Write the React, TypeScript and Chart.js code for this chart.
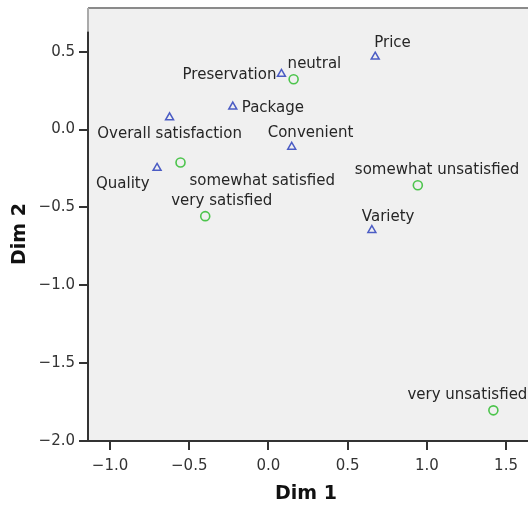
import React, { useEffect, useRef } from "react";
import { Chart, registerables } from "chart.js";

Chart.register(...registerables);

// ---- data ----
const attributeNames = ["Price", "Preservation", "Package", "Convenient", "Overall satisfaction", "Quality", "Variety"];
const attributeDim1 = [0.674, 0.082, -0.225, 0.147, -0.624, -0.703, 0.653];
const attributeDim2 = [0.468, 0.357, 0.147, -0.111, 0.078, -0.247, -0.646];

const levelNames = ["neutral", "somewhat satisfied", "very satisfied", "somewhat unsatisfied", "very unsatisfied"];
const levelDim1 = [0.159, -0.555, -0.399, 0.943, 1.42];
const levelDim2 = [0.323, -0.211, -0.556, -0.357, -1.803];

const xTickValues = [-1.0, -0.5, 0.0, 0.5, 1.0, 1.5];
const xTickLabels = ["\u22121.0", "\u22120.5", "0.0", "0.5", "1.0", "1.5"];
const yTickValues = [-2.0, -1.5, -1.0, -0.5, 0.0, 0.5];
const yTickLabels = ["\u22122.0", "\u22121.5", "\u22121.0", "\u22120.5", "0.0", "0.5"];

const xTitle = "Dim 1";
const yTitle = "Dim 2";

// label placement (pixel offsets from the marker, and text alignment)
const attributeLabelPlacement: [number, number, CanvasTextAlign][] = [
  [-1, -14, "left"],
  [-5, 1.5, "right"],
  [9, 1, "left"],
  [-24, -13.5, "left"],
  [0, 17, "center"],
  [-7.5, 16.5, "right"],
  [-10, -13.5, "left"],
];
const levelLabelPlacement: [number, number, CanvasTextAlign][] = [
  [-6, -15, "left"],
  [9, 19, "left"],
  [-34, -15, "left"],
  [-63, -15, "left"],
  [-86, -15, "left"],
];

const FONT = "'DejaVu Sans', sans-serif";

const framePlugin = {
  id: "spssFrame",
  beforeDatasetsDraw(chart: any) {
    const { ctx, chartArea, scales } = chart;
    const { left, top, right, bottom } = chartArea;
    ctx.save();
    ctx.fillStyle = "#f0f0f0";
    ctx.fillRect(left, top, right - left + 10, bottom - top);
    ctx.strokeStyle = "#8a8a8a";
    ctx.lineWidth = 2;
    ctx.beginPath();
    ctx.moveTo(left, top);
    ctx.lineTo(right + 10, top);
    ctx.stroke();
    const yAxisTop = scales.y.getPixelForValue(0.63);
    ctx.strokeStyle = "#aaaaaa";
    ctx.beginPath();
    ctx.moveTo(left, top);
    ctx.lineTo(left, yAxisTop);
    ctx.stroke();
    ctx.strokeStyle = "#333333";
    ctx.beginPath();
    ctx.moveTo(left, yAxisTop);
    ctx.lineTo(left, bottom);
    ctx.lineTo(right + 10, bottom);
    ctx.stroke();
    ctx.restore();
  },
  afterDatasetsDraw(chart: any) {
    const { ctx } = chart;
    ctx.save();
    ctx.font = `15px ${FONT}`;
    ctx.fillStyle = "#262626";
    ctx.textBaseline = "middle";
    const groups = [
      { names: attributeNames, place: attributeLabelPlacement, idx: 0 },
      { names: levelNames, place: levelLabelPlacement, idx: 1 },
    ];
    groups.forEach((g) => {
      const meta = chart.getDatasetMeta(g.idx);
      meta.data.forEach((el: any, i: number) => {
        const [dx, dy, align] = g.place[i];
        ctx.textAlign = align;
        ctx.fillText(g.names[i], el.x + dx, el.y + dy);
      });
    });
    ctx.font = `bold 19px ${FONT}`;
    ctx.fillStyle = "#111111";
    ctx.textAlign = "center";
    ctx.fillText(xTitle, 306, 494);
    ctx.translate(20, 234);
    ctx.rotate(-Math.PI / 2);
    ctx.fillText(yTitle, 0, 0);
    ctx.restore();
  },
};

export default function App() {
  const ref = useRef<HTMLCanvasElement>(null);
  useEffect(() => {
    if (!ref.current) return;
    const chart = new Chart(ref.current, {
      type: "scatter",
      data: {
        datasets: [
          {
            data: attributeDim1.map((x, i) => ({ x, y: attributeDim2[i] })),
            pointStyle: "triangle",
            pointRadius: 4.6,
            borderColor: "#4b5cc4",
            backgroundColor: "rgba(0,0,0,0)",
            borderWidth: 1.5,
          },
          {
            data: levelDim1.map((x, i) => ({ x, y: levelDim2[i] })),
            pointStyle: "circle",
            pointRadius: 4.5,
            borderColor: "#4cc44c",
            backgroundColor: "rgba(0,0,0,0)",
            borderWidth: 1.6,
          },
        ],
      },
      options: {
        animation: false,
        responsive: false,
        events: [],
        layout: { padding: { top: 8, left: 0, right: 0, bottom: 0 } },
        plugins: { legend: { display: false }, tooltip: { enabled: false } },
        scales: {
          x: {
            type: "linear",
            min: -1.139,
            max: 1.72,
            afterBuildTicks: (s: any) => {
              s.ticks = xTickValues.map((v) => ({ value: v }));
            },
            afterFit: (s: any) => {
              s.height = 66;
              s.paddingLeft = 0;
              s.paddingRight = 0;
            },
            grid: { drawOnChartArea: false, drawTicks: true, tickLength: 9, lineWidth: 2, color: "#333333" },
            border: { display: false },
            ticks: {
              padding: 7,
              color: "#333333",
              font: { family: FONT, size: 15 },
              callback: (_v: any, i: number) => xTickLabels[i],
              maxRotation: 0,
            },
          },
          y: {
            type: "linear",
            min: -2.0,
            max: 0.781,
            afterBuildTicks: (s: any) => {
              s.ticks = yTickValues.map((v) => ({ value: v }));
            },
            afterFit: (s: any) => {
              s.width = 88;
              s.paddingTop = 0;
              s.paddingBottom = 0;
            },
            grid: { drawOnChartArea: false, drawTicks: true, tickLength: 9, lineWidth: 2, color: "#333333" },
            border: { display: false },
            ticks: {
              padding: 4,
              color: "#333333",
              font: { family: FONT, size: 15 },
              callback: (_v: any, i: number) => yTickLabels[i],
            },
          },
        },
      },
      plugins: [framePlugin],
    });
    return () => chart.destroy();
  }, []);
  return (
    <div style={{ position: "fixed", left: 0, top: 0, width: 528, height: 507, overflow: "hidden", background: "#ffffff" }}>
      <canvas ref={ref} width={547} height={507} style={{ display: "block", width: 547, height: 507 }} />
    </div>
  );
}
